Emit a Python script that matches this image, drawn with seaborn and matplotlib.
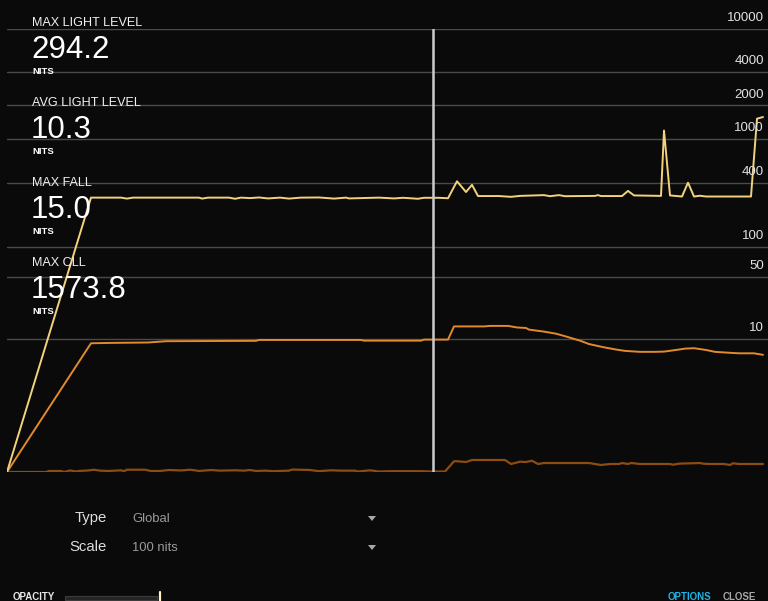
import numpy as np
import matplotlib
matplotlib.use("Agg")
import matplotlib.pyplot as plt
from matplotlib.patches import Rectangle, Polygon
from matplotlib.lines import Line2D
import seaborn as sns

# ---------------- data ----------------
# Max light level per frame (nits)
max_frames = [0, 28, 38, 40, 42, 64, 65, 67, 74, 76, 78, 81, 84, 87, 91, 94, 98, 104, 109, 113, 114,
              124, 129, 132, 137, 139, 144, 147, 150, 153, 155, 157, 164, 168, 171, 179, 181, 184, 186,
              196, 197, 198, 205, 207, 209, 218, 219, 221, 225, 227, 229, 231, 233, 248, 250, 252]
max_nits = [0, 293, 293, 287, 293, 293, 287, 293, 293, 286, 293, 290, 294, 288, 293, 287, 293, 294, 287, 293, 288,
            293, 288, 292, 286, 292, 292, 289, 414, 330, 384, 303, 303, 298, 304, 309, 302, 309, 302,
            304, 309, 303, 303, 338, 307, 304, 1190, 307, 300, 402, 300, 305, 300, 300, 1520, 1574]

# Average light level per frame (nits)
avg_frames = [0, 28, 35, 47, 53, 83, 84, 118, 119, 138, 139, 147, 149, 159, 161, 167, 170, 173, 174, 179,
              183, 186, 191, 194, 199, 203, 206, 211, 216, 219, 223, 226, 229, 233, 236, 241, 244, 249, 252]
avg_nits = [0, 8.9, 9.0, 9.1, 9.45, 9.55, 9.8, 9.8, 9.6, 9.6, 9.9, 9.9, 14.3, 14.3, 14.5, 14.5, 13.9, 13.7, 13.1, 12.4,
            11.7, 10.9, 9.6, 8.7, 7.9, 7.4, 7.1, 6.9, 6.9, 6.95, 7.3, 7.6, 7.7, 7.3, 6.9, 6.7, 6.6, 6.6, 6.3]

# Minimum light level per frame (nits)
min_frames = [0, 13, 14, 18, 19, 21, 23, 24, 27, 29, 31, 34, 38, 39, 40, 46, 48, 51, 54, 58, 61, 63, 64, 68,
              71, 76, 79, 81, 83, 86, 89, 94, 95, 101, 104, 108, 111, 116, 117, 121, 124, 128, 138, 141, 146,
              149, 150, 153, 155, 166, 168, 171, 173, 175, 177, 179, 194, 198, 201, 204, 205, 207, 208, 211,
              221, 222, 224, 231, 232, 234, 239, 241, 242, 244, 252]
min_nits = [0, 0, 0.00017, 0.00017, 0, 0.00035, 0.00005, 0.00017, 0.00035, 0.0007, 0.00028, 0.00017, 0.00042,
            0.00012, 0.0007, 0.0007, 0.00017, 0.00017, 0.00055, 0.00035, 0.0007, 0.00035, 0.00017, 0.00055,
            0.00028, 0.00042, 0.00028, 0.00055, 0.00017, 0.00028, 0.00012, 0.00028, 0.0008, 0.00055, 0.00012,
            0.00042, 0.00028, 0.00028, 0.00005, 0.00042, 0.00005, 0.00012, 0.00012, 0.00005, 0.00004,
            0.0128, 0.0128, 0.011, 0.016, 0.016, 0.0071, 0.0118, 0.011, 0.014, 0.0071, 0.0089, 0.0089, 0.0055,
            0.0071, 0.0071, 0.0089, 0.0071, 0.0089, 0.0071, 0.0071, 0.006, 0.0077, 0.0089, 0.0077, 0.0071,
            0.0071, 0.0055, 0.0083, 0.0071, 0.0071]

current_frame = 142
scale_ticks = [10, 50, 100, 400, 1000, 2000, 4000, 10000]
scale_labels = ["10", "50", "100", "400", "1000", "2000", "4000", "10000"]

stat_names = ["MAX LIGHT LEVEL", "AVG LIGHT LEVEL", "MAX FALL", "MAX CLL"]
stat_values = ["294.2", "10.3", "15.0", "1573.8"]
stat_unit = "NITS"

# ---------------- PQ (ST 2084) scale ----------------
m1, m2 = 2610 / 16384, 2523 / 4096 * 128
c1, c2, c3 = 3424 / 4096, 2413 / 4096 * 32, 2392 / 4096 * 32


def pq(L):
    Y = np.clip(np.asarray(L, dtype=float), 0, None) / 10000.0
    Ym = Y ** m1
    return ((c1 + c2 * Ym) / (1 + c3 * Ym)) ** m2


def pq_inv(E):
    E = np.clip(np.asarray(E, dtype=float), 0, 1)
    Ep = E ** (1 / m2)
    num = np.maximum(Ep - c1, 0)
    den = c2 - c3 * Ep
    return 10000.0 * (num / den) ** (1 / m1)


# ---------------- figure ----------------
BG = "#0a0a0a"
sns.set_theme(style="dark")
plt.rcParams["font.family"] = ["Liberation Sans", "DejaVu Sans"]

W, H = 768, 601
fig = plt.figure(figsize=(W / 100, H / 100), dpi=100, facecolor=BG)


def fx(px):
    return px / W


def fy(py):
    return 1 - py / H


ax = fig.add_axes([fx(7), fy(472), 761 / W, 443 / H])
ax.set_facecolor(BG)
ax.set_yscale("function", functions=(pq, pq_inv))
ax.set_ylim(0, 10000)
ax.set_xlim(0, 761 / 3)
for s in ax.spines.values():
    s.set_visible(False)
ax.set_yticks(scale_ticks)
ax.set_xticks([])
ax.tick_params(length=0, labelleft=False, labelbottom=False)
ax.grid(axis="y", color="#4a4a4a", linewidth=1.0)
ax.grid(axis="x", visible=False)
ax.set_axisbelow(True)

sns.lineplot(x=min_frames, y=min_nits, ax=ax, color="#8c4c12", linewidth=1.6)
sns.lineplot(x=avg_frames, y=avg_nits, ax=ax, color="#e38a2c", linewidth=1.4)
sns.lineplot(x=max_frames, y=max_nits, ax=ax, color="#f3d27c", linewidth=1.4)
ax.axvline(current_frame, color="#cccccc", linewidth=1.8, zorder=5)
ax.set_xlabel("")
ax.set_ylabel("")

for v, lab in zip(scale_ticks, scale_labels):
    ax.annotate(lab, xy=(1, v), xycoords=("axes fraction", "data"), xytext=(-3, 3.5),
                textcoords="offset points", ha="right", va="bottom", color="#e2e2e2",
                fontsize=9.5, clip_on=False)

# stats on the left
for i, (name, val) in enumerate(zip(stat_names, stat_values)):
    y0 = 26 + 80 * i
    fig.text(fx(32), fy(y0), name, color="#f0f0f0", fontsize=9.1, ha="left", va="baseline")
    fig.text(fx(31), fy(y0 + 32), val, color="#ffffff", fontsize=22.5, ha="left", va="baseline")
    fig.text(fx(32), fy(y0 + 48), stat_unit, color="#ffffff", fontsize=6.8, fontweight="bold",
             ha="left", va="baseline")

# bottom controls
fig.text(fx(107), fy(522), "Type", color="#dddddd", fontsize=10.7, ha="right", va="baseline")
fig.text(fx(107), fy(551), "Scale", color="#dddddd", fontsize=10.7, ha="right", va="baseline")
fig.text(fx(132.5), fy(522), "Global", color="#9a9a9a", fontsize=9.4, ha="left", va="baseline")
fig.text(fx(132.5), fy(551), "100 nits", color="#9a9a9a", fontsize=9.4, ha="left", va="baseline")
for ty in (518.5, 547.5):
    fig.add_artist(Polygon([(fx(368), fy(ty - 2.5)), (fx(376), fy(ty - 2.5)), (fx(372), fy(ty + 2.5))],
                           closed=True, transform=fig.transFigure, facecolor="#a8a8a8", edgecolor="none"))

fig.text(fx(13), fy(600.5), "OPACITY", color="#e8e8e8", fontsize=7, fontweight="bold",
         ha="left", va="baseline")
fig.add_artist(Rectangle((fx(65), fy(599.5)), fx(92), 4 / H, transform=fig.transFigure,
                         facecolor="#242424", edgecolor="#3c3c3c", linewidth=0.8))
fig.add_artist(Line2D([fx(160), fx(160)], [fy(592), fy(601)], transform=fig.transFigure,
                      color="#fff2c4", linewidth=1.6))
fig.text(fx(668), fy(600.5), "OPTIONS", color="#1fb3e6", fontsize=7, fontweight="bold",
         ha="left", va="baseline")
fig.text(fx(723), fy(600.5), "CLOSE", color="#a8a8a8", fontsize=7, fontweight="bold",
         ha="left", va="baseline")

fig.savefig("out.png", dpi=100, facecolor=BG)
